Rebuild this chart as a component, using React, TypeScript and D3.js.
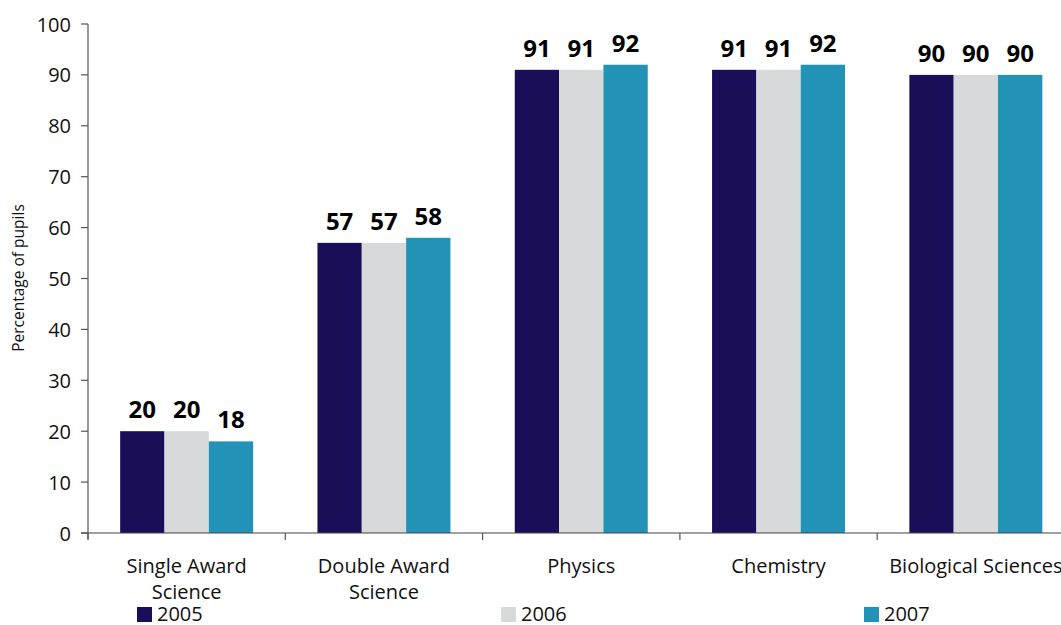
import React from "react";
import * as d3 from "d3";

// Share of pupils by science subject, 2005–2007
const categories = [
  "Single Award Science",
  "Double Award Science",
  "Physics",
  "Chemistry",
  "Biological Sciences",
];
const categoryLines = [
  ["Single Award", "Science"],
  ["Double Award", "Science"],
  ["Physics"],
  ["Chemistry"],
  ["Biological Sciences"],
];
const years = ["2005", "2006", "2007"];
const values2005 = [20, 57, 91, 91, 90];
const values2006 = [20, 57, 91, 91, 90];
const values2007 = [18, 58, 92, 92, 90];
const yTicks = [0, 10, 20, 30, 40, 50, 60, 70, 80, 90, 100];
const yearColors = ["#1b0e59", "#d8d9db", "#2293b7"];

const series = [values2005, values2006, values2007];

const W = 1061;
const H = 625;
const left = 88;
const top = 24;
const bottom = 533;
const right = left + 5 * 197.3;
const font = "'Open Sans', 'DejaVu Sans', sans-serif";

export default function App() {
  const y = d3.scaleLinear().domain([0, 100]).range([bottom, top]);
  const xCat = d3.scaleBand<string>().domain(categories).range([left, right]);
  const xGroup = d3
    .scaleBand<string>()
    .domain(categories)
    .range([left, right])
    .paddingInner(0.326)
    .paddingOuter(0.163);
  const xYear = d3
    .scaleBand<string>()
    .domain(years)
    .range([0, xGroup.bandwidth()]);

  const boundaries = categories.map((c) => xCat(c) as number);
  const legendX = d3.scaleOrdinal<string, number>().domain(years).range([137, 501, 864]);

  return (
    <svg
      width={W}
      height={H}
      style={{ position: "absolute", left: 0, top: 0, background: "#fff" }}
      fontFamily={font}
    >
      {/* bars */}
      {categories.map((c, ci) =>
        years.map((yr, yi) => {
          const v = series[yi][ci];
          const x = (xGroup(c) as number) + (xYear(yr) as number);
          return (
            <rect
              key={c + yr}
              x={x}
              y={y(v)}
              width={xYear.bandwidth()}
              height={bottom - y(v)}
              fill={yearColors[yi]}
            />
          );
        })
      )}

      {/* value labels */}
      {categories.map((c, ci) =>
        years.map((yr, yi) => {
          const v = series[yi][ci];
          const x = (xGroup(c) as number) + (xYear(yr) as number) + xYear.bandwidth() / 2;
          return (
            <text
              key={"l" + c + yr}
              x={x}
              y={y(v) - 13}
              textAnchor="middle"
              fontSize={24}
              fontWeight={700}
              fill="#000"
            >
              {v}
            </text>
          );
        })
      )}

      {/* y axis */}
      <line x1={left} x2={left} y1={top} y2={bottom + 6} stroke="#777" strokeWidth={1.5} />
      {yTicks.map((t) => (
        <g key={t}>
          <line x1={left - 7} x2={left} y1={y(t)} y2={y(t)} stroke="#555" strokeWidth={1.2} />
          <text x={71} y={y(t) + 7.5} textAnchor="end" fontSize={20} fill="#111">
            {t}
          </text>
        </g>
      ))}
      <text
        transform={`translate(24,278) rotate(-90)`}
        textAnchor="middle"
        fontSize={15.5}
        fill="#111"
      >
        Percentage of pupils
      </text>

      {/* x axis */}
      <line x1={left - 7} x2={right} y1={bottom} y2={bottom} stroke="#444" strokeWidth={1.2} />
      {boundaries.map((bx, i) => (
        <line key={i} x1={bx} x2={bx} y1={bottom} y2={bottom + 7} stroke="#555" strokeWidth={1.2} />
      ))}
      {categories.map((c, ci) => (
        <text
          key={"c" + c}
          x={(xCat(c) as number) + xCat.bandwidth() / 2}
          textAnchor="middle"
          fontSize={20}
          fill="#111"
        >
          {categoryLines[ci].map((ln, li) => (
            <tspan key={li} x={(xCat(c) as number) + xCat.bandwidth() / 2} y={573 + li * 26}>
              {ln}
            </tspan>
          ))}
        </text>
      ))}

      {/* legend */}
      {years.map((yr, yi) => (
        <g key={"lg" + yr}>
          <rect x={legendX(yr)} y={607} width={15} height={15} fill={yearColors[yi]} />
          <text x={legendX(yr) + 20} y={621} fontSize={20} fill="#111">
            {yr}
          </text>
        </g>
      ))}
    </svg>
  );
}
